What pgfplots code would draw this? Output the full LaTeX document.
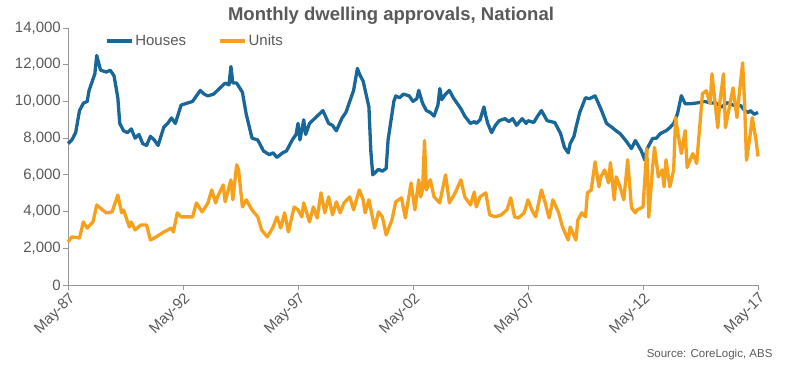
\documentclass[border=0pt]{standalone}
\usepackage{pgfplots}
\pgfplotsset{compat=1.18}
\usepackage{fontspec}
\setmainfont{Liberation Sans}
\definecolor{houses}{RGB}{24,103,152}
\definecolor{units}{RGB}{247,160,28}
\definecolor{txt}{RGB}{89,89,89}
\definecolor{axl}{RGB}{150,150,150}
\begin{document}
\begin{tikzpicture}
\path[use as bounding box] (0,0) rectangle (798pt,366pt);
\begin{axis}[
  at={(68pt,81pt)}, anchor=south west,
  scale only axis, width=690pt, height=257pt,
  xmin=0, xmax=360, ymin=0, ymax=14000,
  axis lines=left, axis line style={-, draw=axl, line width=0.8pt},
  xtick={0,60,...,360},
  xticklabels={May-87,May-92,May-97,May-02,May-07,May-12,May-17},
  xticklabel style={rotate=45, anchor=north east, font=\fontsize{15}{17}\selectfont, text=txt, inner sep=1pt},
  ytick={0,2000,...,14000},
  scaled y ticks=false,
  yticklabel style={font=\fontsize{15}{17}\selectfont, text=txt, inner sep=2pt},
  /pgf/number format/1000 sep={,},
  /pgf/number format/assume math mode=true,
  tick align=outside, major tick length=5pt,
  tick style={draw=axl, line width=0.8pt},
  legend style={at={(0.053,0.982)}, anchor=north west, draw=none, fill=none,
    font=\fontsize{15}{17}\selectfont, text=txt, legend columns=2, inner sep=0pt,
    /tikz/every even column/.append style={column sep=30pt}},
  legend image code/.code={\draw[#1, line width=3.5pt] (0pt,0pt) -- (25pt,0pt);},
  clip=false,
]
\addplot[houses, line width=3.3pt, line join=round] coordinates {
(0,7700)(2,7900)(4,8300)(6,9500)(8,9900)(10,10000)(11,10600)(14,11500)(15,12500)(17,11700)(20,11600)(22,11700)(24,11400)(26,10200)(27,8800)(29,8400)(31,8300)(33,8500)(35,8000)(37,8200)(39,7700)(41,7600)(43,8100)(45,7900)(47,7600)(50,8600)(52,8800)(54,9100)(56,8800)(59,9800)(62,9900)(65,10000)(67,10300)(69,10600)(71,10400)(73,10300)(76,10400)(79,10700)(82,11000)(84,10900)(85,11900)(86,11000)(88,11000)(91,10500)(93,9300)(96,8000)(99,7900)(102,7300)(105,7100)(107,7200)(109,6950)(112,7200)(114,7300)(117,7900)(119,8200)(120,8800)(121,7900)(123,9000)(124,8200)(126,8800)(129,9100)(131,9300)(133,9500)(136,8800)(138,8700)(140,8400)(143,9100)(145,9400)(147,10000)(149,10600)(151,11800)(152,11500)(154,11100)(157,9700)(158,7300)(159,6000)(162,6300)(164,6200)(166,6350)(167,7900)(170,10000)(171,10300)(173,10200)(175,10400)(178,10300)(180,10000)(182,10150)(183,10600)(185,9900)(187,9500)(189,9400)(191,9200)(193,9800)(194,10700)(195,10100)(197,10400)(199,10600)(201,10200)(203,9900)(205,9600)(207,9200)(210,8800)(212,8900)(213,8800)(215,9000)(217,9700)(218,9200)(219,8800)(221,8300)(223,8700)(225,8950)(228,9060)(230,8900)(232,9060)(234,8700)(237,9060)(239,8800)(240,8950)(243,8850)(245,9200)(247,9500)(250,8950)(252,8900)(254,8850)(257,8250)(259,7500)(261,7200)(262,7700)(264,8100)(265,8570)(267,9400)(270,10200)(272,10150)(275,10300)(278,9600)(281,8800)(284,8570)(286,8400)(288,8250)(291,7870)(294,7430)(296,7870)(299,7330)(301,6800)(302,7400)(305,7980)(307,8000)(309,8250)(312,8400)(314,8570)(316,8800)(318,9330)(320,10310)(322,9875)(325,9875)(329,9930)(332,10000)(335,9930)(338,9900)(341,9700)(344,9930)(347,9800)(351,9770)(353,9500)(355,9400)(356,9500)(358,9300)(360,9400)
};
\addlegendentry{Houses}
\addplot[units, line width=3.3pt, line join=round] coordinates {
(0,2350)(2,2620)(6,2560)(8,3430)(10,3100)(13,3430)(15,4360)(18,4090)(20,3930)(23,3980)(26,4900)(28,3930)(29,4090)(32,3160)(33,3430)(35,3000)(38,3270)(41,3270)(43,2450)(46,2620)(50,2890)(54,3100)(55,2890)(57,3930)(59,3710)(61,3710)(65,3710)(67,4470)(70,3980)(73,4470)(75,5180)(77,4470)(78,4800)(81,5450)(82,4530)(85,5730)(86,4640)(88,6550)(89,6270)(91,4250)(93,4640)(96,4090)(99,3710)(101,3000)(104,2620)(107,3160)(109,3710)(111,3100)(113,3930)(115,2890)(118,4250)(120,4100)(122,3710)(123,4470)(126,3430)(128,4250)(130,3650)(132,5020)(134,3930)(136,4800)(138,3820)(140,4530)(142,3930)(144,4470)(147,4800)(149,4090)(152,5180)(154,4640)(155,3930)(157,4640)(160,3100)(162,3980)(164,3710)(166,2730)(169,3540)(171,4530)(174,4750)(176,3650)(179,5560)(181,4090)(183,5730)(184,4800)(185,5200)(186,7870)(187,5180)(189,5730)(191,4800)(194,4470)(195,5020)(197,6000)(199,4470)(202,5020)(205,5730)(207,4800)(210,4360)(212,5070)(213,4250)(215,4800)(218,5020)(220,3820)(223,3710)(226,3820)(229,4090)(231,4750)(233,3710)(235,3650)(238,3930)(240,4640)(242,4090)(244,3710)(247,5180)(249,4470)(251,3650)(253,4640)(256,3930)(258,3160)(261,2450)(262,3160)(265,2450)(266,3540)(268,3930)(270,3710)(271,5020)(273,5180)(275,6710)(277,5350)(278,5890)(280,6270)(282,5560)(283,6660)(285,4640)(286,5890)(288,5350)(290,4640)(292,6820)(294,4200)(296,3930)(297,4090)(300,4250)(302,7430)(303,3700)(305,6400)(306,7500)(308,5890)(310,6270)(311,5350)(312,6820)(314,5350)(316,6270)(317,9120)(318,8410)(320,7160)(322,8410)(323,6400)(326,7160)(328,6620)(330,9120)(331,10420)(333,10580)(335,9880)(336,11500)(339,8570)(340,9880)(342,11500)(343,8570)(345,9660)(347,10740)(349,9120)(350,10200)(352,12100)(353,9880)(354,6800)(356,8250)(357,9120)(359,7870)(360,7000)
};
\addlegendentry{Units}
\end{axis}
\node[font=\bfseries\fontsize{18.5}{21}\selectfont, text=txt] at (391pt,350pt) {Monthly dwelling approvals, National};
\node[font=\fontsize{11.5}{13}\selectfont, text=txt, anchor=east] at (776pt,11pt) {Source: CoreLogic, ABS};
\end{tikzpicture}
\end{document}
